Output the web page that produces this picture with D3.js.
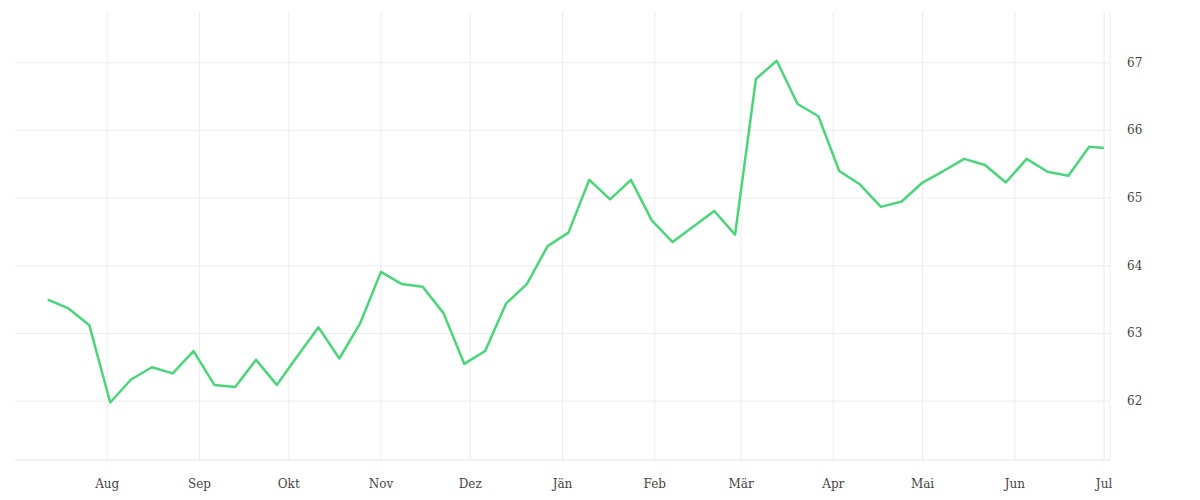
<!DOCTYPE html>
<html><head><meta charset="utf-8">
<script src="https://cdn.jsdelivr.net/npm/d3@7"></script>
<style>body{margin:0;background:#fff}svg text{font-family:"DejaVu Serif","Liberation Serif",serif;font-size:12px;fill:#444}</style>
</head><body><svg id="c" width="1200" height="500"></svg>
<script>
const dates = ["2023-07-12","2023-07-19","2023-07-26","2023-08-02","2023-08-09","2023-08-16","2023-08-23","2023-08-30","2023-09-06","2023-09-13","2023-09-20","2023-09-27","2023-10-04","2023-10-11","2023-10-18","2023-10-25","2023-11-01","2023-11-08","2023-11-15","2023-11-22","2023-11-29","2023-12-06","2023-12-13","2023-12-20","2023-12-27","2024-01-03","2024-01-10","2024-01-17","2024-01-24","2024-01-31","2024-02-07","2024-02-14","2024-02-21","2024-02-28","2024-03-06","2024-03-13","2024-03-20","2024-03-27","2024-04-03","2024-04-10","2024-04-17","2024-04-24","2024-05-01","2024-05-08","2024-05-15","2024-05-22","2024-05-29","2024-06-05","2024-06-12","2024-06-19","2024-06-26","2024-07-01"];
const values = [63.50,63.37,63.12,61.98,62.32,62.50,62.41,62.74,62.24,62.21,62.61,62.24,62.67,63.09,62.63,63.15,63.91,63.73,63.69,63.30,62.55,62.74,63.44,63.73,64.29,64.49,65.27,64.98,65.27,64.67,64.35,64.58,64.81,64.46,66.76,67.03,66.39,66.21,65.40,65.20,64.87,64.95,65.23,65.40,65.58,65.49,65.23,65.58,65.39,65.33,65.76,65.74];
const monthLabels = ["Aug","Sep","Okt","Nov","Dez","Jän","Feb","Mär","Apr","Mai","Jun","Jul"];
const yTicks = [62,63,64,65,66,67];

const p = d3.timeParse("%Y-%m-%d");
const data = dates.map((d,i)=>({d:p(d),v:values[i]}));
const svg = d3.select("#c");
const L=15,R=1110,T=12,B=460;
const x = d3.scaleTime().domain([p("2023-07-01"),p("2024-07-03")]).range([L,R]);
const y = d3.scaleLinear().domain([61.13,67.75]).range([B,T]);
const months = d3.timeMonth.range(p("2023-08-01"),p("2024-07-02"));

const g = svg.append("g");
g.selectAll(".vg").data(months).join("line").attr("x1",d=>x(d)).attr("x2",d=>x(d)).attr("y1",T).attr("y2",B).attr("stroke","#ececec");
g.append("line").attr("x1",R).attr("x2",R).attr("y1",T).attr("y2",B).attr("stroke","#ececec");
g.selectAll(".hg").data(yTicks).join("line").attr("x1",L).attr("x2",R).attr("y1",d=>y(d)).attr("y2",d=>y(d)).attr("stroke","#ececec");
g.append("line").attr("x1",L).attr("x2",R).attr("y1",B).attr("y2",B).attr("stroke","#e4e4e4");

svg.selectAll(".xl").data(months).join("text").attr("x",d=>x(d)).attr("y",488).attr("text-anchor","middle").text((d,i)=>monthLabels[i]);
svg.selectAll(".yl").data(yTicks).join("text").attr("x",1127).attr("y",d=>y(d)+4).text(d=>d);

svg.append("path").datum(data).attr("fill","none").attr("stroke","#4cd47b").attr("stroke-width",2.5).attr("stroke-linejoin","round")
  .attr("d",d3.line().x(d=>x(d.d)).y(d=>y(d.v)));
</script></body></html>
